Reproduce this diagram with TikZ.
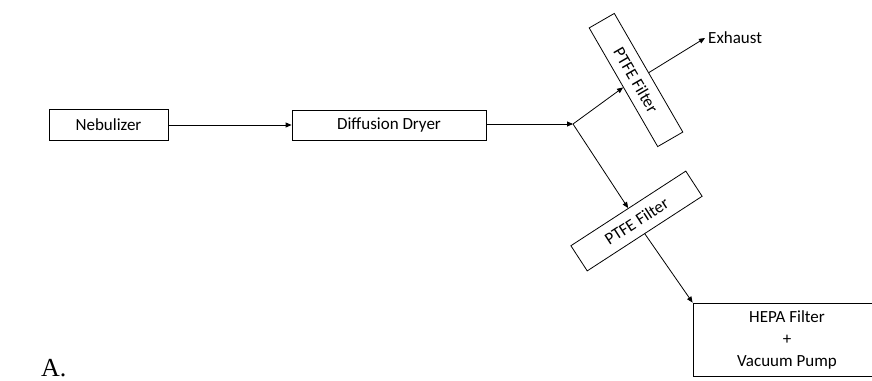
\documentclass[tikz,border=0pt]{standalone}
\usepackage{fontspec}
\setmainfont{Carlito}
\newfontfamily\labelfont{Liberation Serif}
\usetikzlibrary{arrows.meta}

\begin{document}
\begin{tikzpicture}[x=1pt,y=-1pt,
  every node/.style={font=\fontsize{17}{22}\selectfont},
  unit/.style={draw, line width=0.8pt, inner sep=0pt, align=center},
  flow/.style={draw, line width=0.8pt, -{Triangle[length=6pt,width=5pt]}}]
  \useasboundingbox (0,0) rectangle (872,380);

  % process units
  \node[unit, minimum width=119pt, minimum height=31pt] (neb) at (108.5,125) {Nebulizer};
  \node[unit, minimum width=194pt, minimum height=30pt] (dry) at (389,125) {Diffusion Dryer};
  \coordinate (j) at (573,124);
  \node[unit, minimum width=137pt, minimum height=29pt, rotate=-60] (f1) at (636,80) {PTFE Filter};
  \node[unit, minimum width=137pt, minimum height=30pt, rotate=33] (f2) at (636.5,221) {PTFE Filter};
  \node[unit, minimum width=188pt, minimum height=73pt] (hepa) at (787,339.5)
    {HEPA Filter\\+\\Vacuum Pump};
  \node[anchor=west, inner sep=0pt] (exh) at (708,38) {Exhaust};

  % flow lines
  \draw[flow] (neb.east) -- (dry.west);
  \draw[flow] (dry.east |- j) -- (j);
  \draw[flow] (j) -- (f1.south);
  \draw[flow] (f1.north) -- ([xshift=-3pt]exh.west);
  \draw[flow] (j) -- (f2.north);
  \draw[flow] (f2.south) -- (hepa.north west);

  % panel label
  \node[anchor=base west, inner sep=0pt, font=\labelfont\fontsize{26}{26}\selectfont] (lbl) at (41,376) {A.};
\end{tikzpicture}
\end{document}
